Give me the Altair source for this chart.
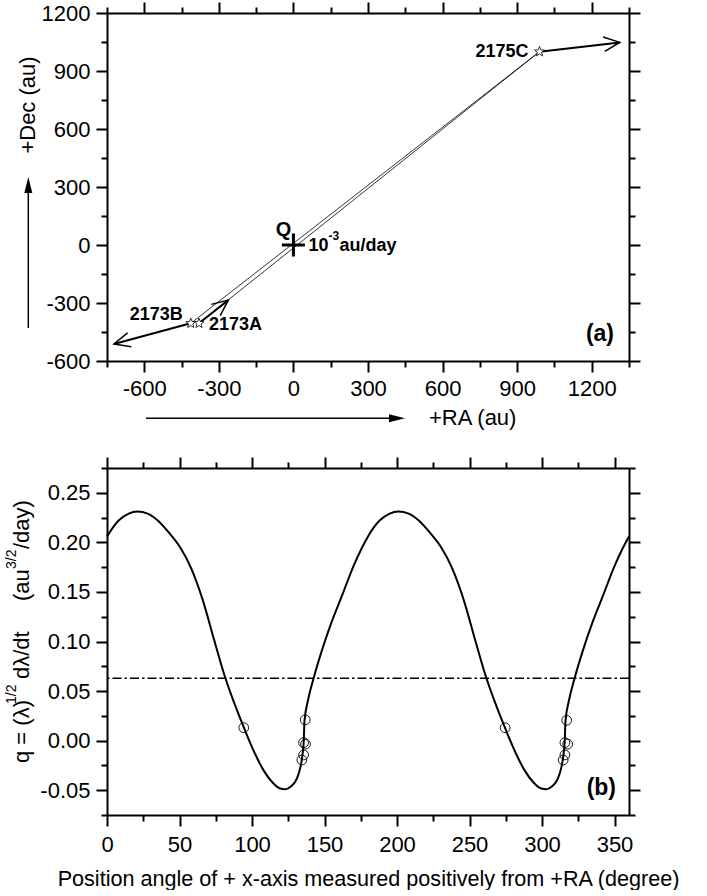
import math
import altair as alt
import pandas as pd

FONT = "Liberation Sans"
FS = 22

# ---------------- panel (a) data ----------------
star_names = ["2173A", "2173B", "2175C"]
star_ra = [-380, -413, 990]
star_dec = [-405, -405, 1000]
arrow_end_ra = [-262, -722, 1313]
arrow_end_dec = [-285, -512, 1048]
q_ra = [0]
q_dec = [0]

ra_ticks = [-600, -300, 0, 300, 600, 900, 1200]
ra_minor = [-750, -450, -150, 150, 450, 750, 1050, 1350]
dec_ticks = [-600, -300, 0, 300, 600, 900, 1200]
dec_minor = [-450, -150, 150, 450, 750, 1050]

# ---------------- panel (b) data ----------------
curve_angle = [0, 8, 15, 21, 28, 35, 42, 50, 58, 66, 74, 81, 88, 95, 102, 108, 114,
               119, 123, 127, 131, 133.5, 135, 135.7, 136.2, 138.5, 142.5, 148, 155,
               162, 170, 176,
               180, 188, 195, 201, 208, 215, 222, 230, 238, 246, 254, 261, 268, 275,
               282, 288, 294, 299, 303, 307, 311, 313.5, 315, 315.7, 316.2, 318.5,
               322.5, 328, 335, 342, 350, 356, 360]
curve_q = [0.206, 0.222, 0.229, 0.231, 0.229, 0.222, 0.211, 0.196, 0.174, 0.142, 0.101,
           0.066, 0.037, 0.011, -0.013, -0.030, -0.042, -0.048, -0.049, -0.046, -0.038,
           -0.026, -0.012, 0.000, 0.020, 0.040, 0.063, 0.090, 0.120, 0.146, 0.176, 0.195,
           0.206, 0.222, 0.229, 0.231, 0.229, 0.222, 0.211, 0.196, 0.174, 0.142, 0.101,
           0.066, 0.037, 0.011, -0.013, -0.030, -0.042, -0.048, -0.049, -0.046, -0.038,
           -0.026, -0.012, 0.000, 0.020, 0.040, 0.063, 0.090, 0.120, 0.146, 0.176, 0.195,
           0.206]
obs_angle = [94.3, 136.7, 135.6, 136.9, 135.6, 134.4,
             274.6, 317.0, 315.8, 317.7, 315.8, 314.6]
obs_q = [0.013, 0.021, -0.002, -0.0035, -0.0144, -0.0195,
         0.013, 0.0205, -0.002, -0.0035, -0.0144, -0.0195]
threshold_q = [0.063]

ang_ticks = [0, 50, 100, 150, 200, 250, 300, 350]
ang_minor = [25, 75, 125, 175, 225, 275, 325]
q_ticks = [-0.05, 0.0, 0.05, 0.10, 0.15, 0.20, 0.25]
q_minor = [-0.075, -0.025, 0.025, 0.075, 0.125, 0.175, 0.225, 0.275]

# ---------------- layout ----------------
W = 522
HA = 348
HB = 347
RA_DOM = [-750, 1350]
DEC_DOM = [-600, 1200]
ANG_DOM = [0, 360]
Q_DOM = [-0.075, 0.275]

# five-pointed star outline as a symbol path (unit box -1..1)
_pts = []
for k in range(10):
    r = 1.0 if k % 2 == 0 else 0.42
    a = math.radians(-90 + 36 * k)
    _pts.append(f"{r * math.cos(a):.3f},{r * math.sin(a):.3f}")
STAR_PATH = "M" + "L".join(_pts) + "Z"

stars = pd.DataFrame({"name": star_names, "ra": star_ra, "dec": star_dec,
                      "ra2": arrow_end_ra, "dec2": arrow_end_dec})
px_x = W / (RA_DOM[1] - RA_DOM[0])
px_y = HA / (DEC_DOM[1] - DEC_DOM[0])
stars["ang"] = [
    math.degrees(math.atan2(-(e_d - s_d) * px_y, (e_r - s_r) * px_x)) % 360
    for s_r, s_d, e_r, e_d in zip(star_ra, star_dec, arrow_end_ra, arrow_end_dec)
]
lines = pd.DataFrame({"ra": star_ra[:2], "dec": star_dec[:2],
                      "ra2": [star_ra[2]] * 2, "dec2": [star_dec[2]] * 2})
qdf = pd.DataFrame({"ra": q_ra, "dec": q_dec})

curve = pd.DataFrame({"angle": curve_angle, "q": curve_q})
obs = pd.DataFrame({"angle": obs_angle, "q": obs_q})
thr = pd.DataFrame({"q": threshold_q})

INT_LABEL = "'' + datum.value"
Q_LABEL = "(datum.value < 0 ? '-' : '') + format(abs(datum.value), '.2f')"


def sc(dom):
    return alt.Scale(domain=dom, nice=False, zero=False)


def ax(orient, values, major, labels, expr=INT_LABEL, pad=7, **kw):
    d = dict(orient=orient, values=values, grid=False,
             tickSize=11 if major else 6, tickWidth=2, tickColor="black",
             domain=major, domainWidth=2, domainColor="black",
             labels=labels, title=None)
    if labels:
        d.update(labelFontSize=FS, labelFont=FONT, labelColor="black",
                 labelPadding=pad, labelFlush=False, labelOverlap=False,
                 labelExpr=expr)
    d.update(kw)
    return alt.Axis(**d)


def axis_layers(df, xf, yf, xdom, ydom, xt, xm, yt, ym, xexpr, yexpr, xpad, xkw):
    base = alt.Chart(df).mark_point(opacity=0)
    return [
        base.encode(
            x=alt.X(xf, type="quantitative", scale=sc(xdom),
                    axis=ax("bottom", xt, True, True, xexpr, xpad, **xkw)),
            y=alt.Y(yf, type="quantitative", scale=sc(ydom),
                    axis=ax("left", yt, True, True, yexpr, 6))),
        base.encode(
            x=alt.X(xf, type="quantitative", scale=sc(xdom), axis=ax("top", xt, True, False)),
            y=alt.Y(yf, type="quantitative", scale=sc(ydom), axis=ax("right", yt, True, False))),
        base.encode(
            x=alt.X(xf, type="quantitative", scale=sc(xdom), axis=ax("bottom", xm, False, False)),
            y=alt.Y(yf, type="quantitative", scale=sc(ydom), axis=ax("left", ym, False, False))),
        base.encode(
            x=alt.X(xf, type="quantitative", scale=sc(xdom), axis=ax("top", xm, False, False)),
            y=alt.Y(yf, type="quantitative", scale=sc(ydom), axis=ax("right", ym, False, False))),
    ]


one = alt.Data(values=[{"k": 1}])


def txt(text, x, y, **kw):
    props = dict(text=text, font=FONT, fontSize=FS, color="black")
    props.update(kw)
    return alt.Chart(one).mark_text(**props).encode(x=alt.value(x), y=alt.value(y))


# ---------------- panel (a) ----------------
RA = alt.X("ra:Q", scale=sc(RA_DOM), axis=None)
DEC = alt.Y("dec:Q", scale=sc(DEC_DOM), axis=None)

top_layers = axis_layers(stars, "ra", "dec", RA_DOM, DEC_DOM, ra_ticks, ra_minor,
                         dec_ticks, dec_minor, INT_LABEL, INT_LABEL, 6, {})

thin = alt.Chart(lines).mark_rule(color="black", strokeWidth=0.8).encode(
    x=RA, y=DEC, x2="ra2:Q", y2="dec2:Q")
arrows = alt.Chart(stars).mark_rule(color="black", strokeWidth=2).encode(
    x=RA, y=DEC, x2="ra2:Q", y2="dec2:Q")
heads = alt.Chart(stars).mark_point(
    shape="M-1,-0.45L0,0L-1,0.45", filled=False, color="black", strokeWidth=1.5,
    size=1024, opacity=1).encode(
    x=alt.X("ra2:Q", scale=sc(RA_DOM), axis=None),
    y=alt.Y("dec2:Q", scale=sc(DEC_DOM), axis=None),
    angle=alt.Angle("ang:Q", scale=None))
star_marks = alt.Chart(stars).mark_point(
    shape=STAR_PATH, filled=True, fill="white", stroke="black", strokeWidth=0.8,
    size=110, opacity=1).encode(x=RA, y=DEC)
cross = alt.Chart(qdf).mark_point(
    shape="M-1,0L1,0M0,-1L0,1", filled=False, color="black", strokeWidth=3,
    size=529, opacity=1).encode(x=RA, y=DEC)

BOLD = dict(fontWeight="bold", fontSize=18, font=FONT, color="black")
lab_c = alt.Chart(stars).transform_filter(alt.datum.name == "2175C").mark_text(
    align="right", baseline="middle", dx=-11, dy=0, **BOLD
).encode(x=RA, y=DEC, text="name:N")
lab_b = alt.Chart(stars).transform_filter(alt.datum.name == "2173B").mark_text(
    align="right", baseline="middle", dx=-8, dy=-8, **BOLD
).encode(x=RA, y=DEC, text="name:N")
lab_a = alt.Chart(stars).transform_filter(alt.datum.name == "2173A").mark_text(
    align="left", baseline="middle", dx=10, dy=2, **BOLD
).encode(x=RA, y=DEC, text="name:N")
lab_q = alt.Chart(qdf).mark_text(
    text="Q", align="center", baseline="middle", dx=-10, dy=-15, font=FONT,
    color="black", fontWeight="bold", fontSize=20).encode(x=RA, y=DEC)
lab_10 = alt.Chart(qdf).mark_text(
    text="10", align="left", baseline="alphabetic", dx=15, dy=6, **BOLD).encode(x=RA, y=DEC)
lab_m3 = alt.Chart(qdf).mark_text(
    text="-3", align="left", baseline="alphabetic", dx=35, dy=-5, font=FONT,
    color="black", fontWeight="bold", fontSize=12).encode(x=RA, y=DEC)
lab_au = alt.Chart(qdf).mark_text(
    text="au/day", align="left", baseline="alphabetic", dx=46, dy=6, **BOLD).encode(x=RA, y=DEC)

panel_a_tag = txt("(a)", W - 15, HA - 20, align="right", baseline="alphabetic",
                  fontWeight="bold", fontSize=23)

# axis titles drawn with direction arrows
dec_title = txt("+Dec (au)", -79, 92, angle=270, align="center", baseline="middle")
dec_line = alt.Chart(one).mark_rule(color="black", strokeWidth=1.5).encode(
    x=alt.value(-78.7), y=alt.value(180), y2=alt.value(315))
dec_head = alt.Chart(one).mark_point(
    shape="M0,-1L0.5,1L-0.5,1Z", filled=True, color="black", size=256, opacity=1,
    strokeWidth=0).encode(x=alt.value(-78.7), y=alt.value(172))
ra_title = txt("+RA (au)", 322, 405, align="left", baseline="middle")
ra_line = alt.Chart(one).mark_rule(color="black", strokeWidth=1.5).encode(
    x=alt.value(39), x2=alt.value(290), y=alt.value(405.3))
ra_head = alt.Chart(one).mark_point(
    shape="M1,0L-1,0.5L-1,-0.5Z", filled=True, color="black", size=256, opacity=1,
    strokeWidth=0).encode(x=alt.value(290), y=alt.value(405.3))
anchor = alt.Chart(one).mark_rule(color="white", strokeWidth=1).encode(
    x=alt.value(-106.5), x2=alt.value(-100), y=alt.value(-12.5))

top = alt.layer(
    *top_layers, thin, arrows, heads, star_marks, cross,
    lab_c, lab_b, lab_a, lab_q, lab_10, lab_m3, lab_au, panel_a_tag,
    dec_title, dec_line, dec_head, ra_title, ra_line, ra_head, anchor
).properties(width=W, height=HA).resolve_axis(x="independent", y="independent")

# ---------------- panel (b) ----------------
ANG = alt.X("angle:Q", scale=sc(ANG_DOM), axis=None)
QQ = alt.Y("q:Q", scale=sc(Q_DOM), axis=None)

bot_layers = axis_layers(
    curve, "angle", "q", ANG_DOM, Q_DOM, ang_ticks, ang_minor, q_ticks, q_minor,
    INT_LABEL, Q_LABEL, 8,
    dict(title="Position angle of + x-axis measured positively from +RA (degree)",
         titleFont=FONT, titleFontSize=21.6, titleFontWeight="normal",
         titleColor="black", titlePadding=13))

curve_line = alt.Chart(curve).mark_line(
    color="black", strokeWidth=2, interpolate="monotone").encode(x=ANG, y=QQ)
thr_line = alt.Chart(thr).mark_rule(
    color="black", strokeWidth=1.6, strokeDash=[9, 3, 2.5, 3]).encode(y=QQ)
obs_pts = alt.Chart(obs).mark_point(
    shape="circle", filled=False, color="black", strokeWidth=0.9, size=95,
    opacity=1).encode(x=ANG, y=QQ)
panel_b_tag = txt("(b)", W - 13, HB - 20, align="right", baseline="alphabetic",
                  fontWeight="bold", fontSize=23)

SUP = dict(angle=270, align="left", baseline="alphabetic", fontSize=14)
NORM = dict(angle=270, align="left", baseline="alphabetic")
yt1 = txt("q = (λ)", -78, 295, **NORM)
yt2 = txt("1/2", -91, 236, **SUP)
yt3 = txt("dλ/dt", -78, 211, **NORM)
yt4 = txt("(au", -78, 133, **NORM)
yt5 = txt("3/2", -91, 101, **SUP)
yt6 = txt("/day)", -78, 81, **NORM)

bottom = alt.layer(
    *bot_layers, thr_line, curve_line, obs_pts, panel_b_tag,
    yt1, yt2, yt3, yt4, yt5, yt6
).properties(width=W, height=HB).resolve_axis(x="independent", y="independent")

chart = alt.vconcat(top, bottom, spacing=107, bounds="flush").properties(
    padding=0
).configure_view(strokeWidth=0)

chart.save("out.html", embed_options={"renderer": "svg", "actions": False})
